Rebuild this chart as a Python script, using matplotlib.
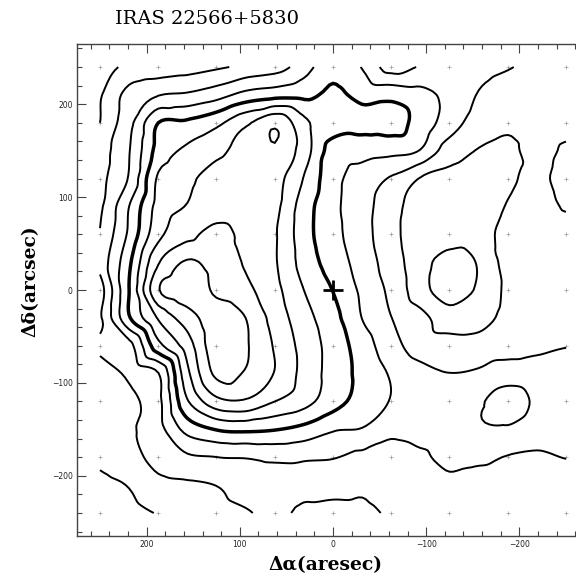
import numpy as np
import matplotlib
matplotlib.use("Agg")
import matplotlib.pyplot as plt
import matplotlib.tri as mtri
from matplotlib.ticker import MultipleLocator

# Map grid: RA offsets (arcsec, east positive) and Dec offsets (arcsec)
ra_offsets = [250.0, 218.75, 187.5, 156.25, 125.0, 93.75, 62.5, 31.25, 0.0,
              -31.25, -62.5, -93.75, -125.0, -156.25, -187.5, -218.75, -250.0]
dec_offsets = [240, 210, 180, 150, 120, 90, 60, 30, 0,
               -30, -60, -90, -120, -150, -180, -210, -240]

# Integrated intensity in units of the contour step (rows: Dec from +240 down to -240)
intensity = [
    [0.60, 1.25, 1.35, 1.55, 1.85, 2.22, 2.55, 3.55, 4.65, 3.95, 2.57, 3.05, 3.30, 3.20, 3.04, 2.85, 2.70],
    [0.90, 2.35, 2.95, 3.15, 3.60, 4.33, 4.65, 4.75, 5.20, 4.70, 4.70, 4.35, 3.70, 2.95, 2.70, 2.65, 2.60],
    [1.00, 2.70, 5.00, 5.18, 5.75, 6.80, 7.80, 6.25, 5.45, 5.30, 5.40, 4.60, 3.48, 2.58, 2.20, 2.45, 2.40],
    [1.50, 2.95, 5.35, 6.20, 6.74, 7.40, 7.92, 6.50, 4.55, 4.38, 4.27, 3.95, 2.50, 1.95, 1.80, 2.30, 1.85],
    [1.70, 3.10, 6.15, 6.78, 7.40, 7.50, 7.35, 5.95, 4.33, 3.60, 2.90, 1.95, 1.70, 1.65, 1.85, 2.20, 1.60],
    [1.80, 4.00, 6.35, 7.05, 7.50, 7.45, 7.25, 5.50, 4.25, 3.42, 2.35, 1.60, 1.50, 1.55, 2.05, 2.35, 1.90],
    [2.05, 4.20, 6.70, 7.70, 8.30, 7.70, 7.10, 5.42, 4.32, 3.40, 2.30, 1.55, 1.60, 1.60, 2.30, 2.50, 2.60],
    [2.30, 4.80, 7.90, 9.10, 8.55, 7.90, 7.10, 5.60, 4.53, 3.58, 2.48, 1.45, 0.50, 1.10, 2.35, 2.60, 2.70],
    [1.50, 5.00, 8.90, 9.60, 8.80, 8.25, 7.30, 6.00, 4.97, 3.80, 2.75, 1.42, 0.45, 1.15, 2.20, 2.55, 2.70],
    [1.85, 4.90, 7.10, 8.50, 9.50, 9.00, 7.60, 6.38, 5.35, 3.98, 3.02, 2.30, 1.50, 1.60, 2.30, 2.60, 2.65],
    [2.15, 2.65, 5.65, 7.50, 9.60, 9.10, 7.90, 6.64, 5.60, 4.50, 3.40, 2.50, 2.38, 2.40, 2.55, 2.80, 2.97],
    [1.60, 2.20, 2.95, 6.75, 9.20, 8.90, 7.95, 6.68, 5.60, 4.70, 3.90, 3.35, 3.02, 3.15, 3.54, 3.45, 3.30],
    [1.40, 1.80, 2.72, 5.90, 7.67, 7.85, 7.00, 6.35, 5.40, 4.62, 3.95, 3.50, 3.55, 3.90, 4.40, 3.85, 3.50],
    [1.50, 1.85, 2.65, 4.35, 5.05, 5.20, 5.05, 4.70, 4.10, 3.95, 3.30, 3.45, 3.60, 3.90, 3.90, 3.50, 3.40],
    [1.20, 1.60, 2.40, 2.85, 2.99, 3.05, 3.20, 3.15, 3.05, 2.75, 2.50, 2.80, 3.35, 3.20, 2.95, 2.85, 3.03],
    [0.75, 1.05, 1.70, 1.85, 2.02, 2.45, 2.60, 2.35, 2.40, 2.20, 2.50, 2.60, 2.70, 2.60, 2.55, 2.50, 2.55],
    [0.40, 0.70, 1.05, 1.35, 1.65, 1.90, 2.25, 1.80, 1.60, 1.75, 2.15, 2.35, 2.45, 2.45, 2.40, 2.40, 2.40],
]

contour_levels = [1, 2, 3, 4, 5, 6, 7, 8, 9]
half_power_level = 5

# Observed pointing positions
obs_ra = [250.0, 187.5, 125.0, 62.5, 0.0, -62.5, -125.0, -187.5, -250.0]
obs_dec = [240, 180, 120, 60, 0, -60, -120, -180, -240]

# IRAS source position
source_ra = [0.0]
source_dec = [0.0]

W, H = 576, 582
fig = plt.figure(figsize=(W / 100, H / 100), dpi=100)
ax = fig.add_axes([76.7 / W, (H - 536.2) / H, 512.6 / W, 492.4 / H])

obs_x, obs_y = np.meshgrid(obs_ra, obs_dec)
ax.plot(obs_x.ravel(), obs_y.ravel(), linestyle="none", marker="+",
        markersize=2.5, markeredgewidth=0.5, color="#9a9a9a", zorder=1)

# Smooth contours: cubic refinement of the map on a triangulation
ra_grid, dec_grid = np.meshgrid(ra_offsets, dec_offsets)
z = np.array(intensity, dtype=float)
triang = mtri.Triangulation(ra_grid.ravel(), dec_grid.ravel())
interp = mtri.CubicTriInterpolator(triang, z.ravel(), kind="geom")
refiner = mtri.UniformTriRefiner(triang)
tri_fine, z_fine = refiner.refine_field(z.ravel(), triinterpolator=interp, subdiv=3)

widths = [2.5 if lv == half_power_level else 1.4 for lv in contour_levels]
ax.tricontour(tri_fine, z_fine, levels=contour_levels, colors="black",
              linewidths=widths, zorder=2)

ax.plot(source_ra, source_dec, linestyle="none", marker="+", markersize=14,
        markeredgewidth=2.0, color="black", zorder=3)

ax.set_xlim(275, -275)
ax.set_ylim(-265, 265)
ax.xaxis.set_major_locator(MultipleLocator(100))
ax.xaxis.set_minor_locator(MultipleLocator(20))
ax.yaxis.set_major_locator(MultipleLocator(100))
ax.yaxis.set_minor_locator(MultipleLocator(20))
ax.tick_params(which="both", direction="in", top=True, right=True,
               color="#444444", width=0.8, labelsize=5.5, labelcolor="#222222")
ax.tick_params(which="major", length=6.5, pad=3)
ax.tick_params(which="minor", length=3.5)
for sp in ax.spines.values():
    sp.set_color("#444444")
    sp.set_linewidth(1.0)

serif = ["DejaVu Serif"]
fig.text(115 / W, 1 - 19 / H, "IRAS 22566+5830", family=serif, fontsize=14,
         ha="left", va="center")
fig.text(325 / W, 1 - 565 / H, "Δα(aresec)", family=serif, fontsize=13.5,
         fontweight="bold", ha="center", va="center")
fig.text(31 / W, 1 - 281 / H, "Δδ(arcsec)", family=serif, fontsize=13.5,
         fontweight="bold", ha="center", va="center", rotation=90)

fig.savefig("out.png", dpi=100)
